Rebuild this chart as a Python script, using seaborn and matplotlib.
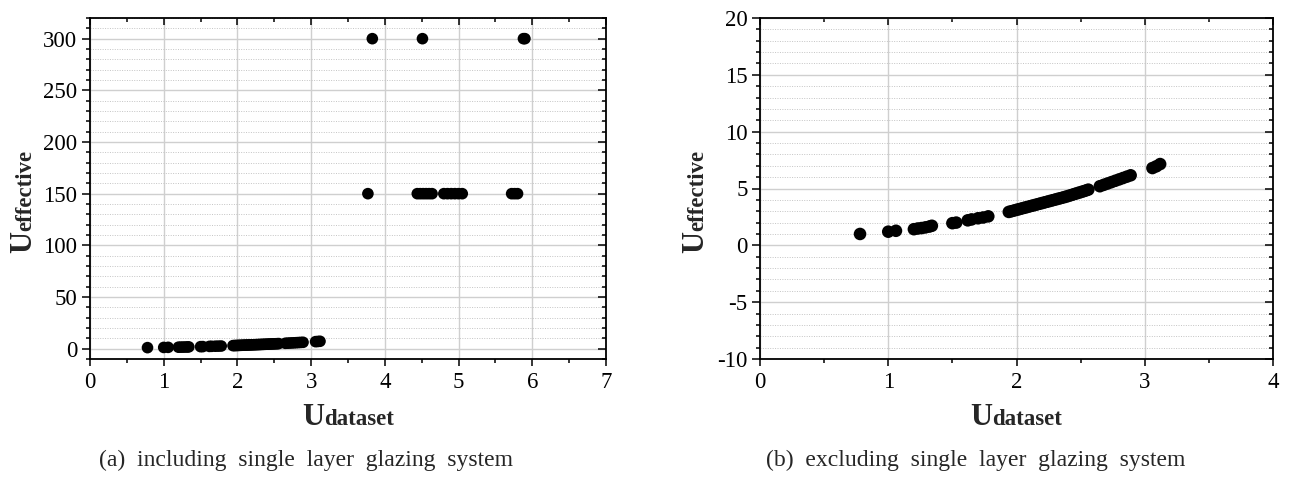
import matplotlib
matplotlib.use("Agg")
import matplotlib.pyplot as plt
from matplotlib.ticker import MultipleLocator
import seaborn as sns
import pandas as pd

# ---------------- data ----------------
low_x = [0.78, 1.00, 1.06, 1.20, 1.23, 1.26, 1.29, 1.32, 1.34, 1.50, 1.53,
         1.62, 1.65, 1.70, 1.74, 1.78,
         1.94, 1.96, 1.98, 2.00, 2.02, 2.04, 2.06, 2.08, 2.10, 2.12, 2.14,
         2.16, 2.18, 2.20, 2.22, 2.24, 2.26, 2.28, 2.30, 2.32, 2.34, 2.36,
         2.38, 2.40, 2.42, 2.44, 2.46, 2.48, 2.50, 2.52, 2.54, 2.56,
         2.65, 2.68, 2.71, 2.74, 2.77, 2.80, 2.83, 2.86, 2.89,
         3.06, 3.09, 3.12]
low_y = [1.00, 1.20, 1.28, 1.42, 1.48, 1.52, 1.58, 1.65, 1.72, 1.95, 2.00,
         2.20, 2.28, 2.38, 2.45, 2.55,
         2.94, 3.00, 3.06, 3.12, 3.18, 3.24, 3.30, 3.36, 3.42, 3.48, 3.54,
         3.60, 3.66, 3.72, 3.78, 3.84, 3.90, 3.96, 4.02, 4.08, 4.14, 4.20,
         4.26, 4.33, 4.40, 4.47, 4.54, 4.61, 4.68, 4.75, 4.82, 4.90,
         5.20, 5.32, 5.44, 5.56, 5.68, 5.80, 5.92, 6.04, 6.16,
         6.80, 6.95, 7.15]

single_x = [3.77, 4.44, 4.48, 4.52, 4.56, 4.60, 4.64, 4.80, 4.85, 4.90,
            4.95, 5.00, 5.05, 5.72, 5.76, 5.80, 3.83, 4.51, 5.88, 5.90]
single_y = [150, 150, 150, 150, 150, 150, 150, 150, 150, 150,
            150, 150, 150, 150, 150, 150, 300, 300, 300, 300]

captions = ["(a)  including  single  layer  glazing  system",
            "(b)  excluding  single  layer  glazing  system"]
ylabel_main, ylabel_sub = "U", "effective"
xlabel_main, xlabel_sub = "U", "dataset"

df_all = pd.DataFrame({"x": low_x + single_x, "y": low_y + single_y})
df_ex = pd.DataFrame({"x": low_x, "y": low_y})

# ---------------- style ----------------
sns.set_style("ticks")
plt.rcParams["font.family"] = ["Liberation Serif", "DejaVu Serif"]
plt.rcParams["axes.unicode_minus"] = False

W, H = 1289, 478
fig = plt.figure(figsize=(W / 100, H / 100), dpi=100)


def px_rect(l, r, t, b):
    return [l / W, 1 - b / H, (r - l) / W, (b - t) / H]


ax1 = fig.add_axes(px_rect(90, 606, 18, 359))
ax2 = fig.add_axes(px_rect(760, 1273, 18, 359))

sns.scatterplot(data=df_all, x="x", y="y", ax=ax1, color="black",
                s=70, edgecolor="none", linewidth=0, zorder=5)
sns.scatterplot(data=df_ex, x="x", y="y", ax=ax2, color="black",
                s=82, edgecolor="none", linewidth=0, zorder=5)

settings = [
    (ax1, (0, 7), (-10, 320), 1, 0.5, 50, 10),
    (ax2, (0, 4), (-10, 20), 1, 0.5, 5, 1),
]
for ax, xl, yl, xmaj, xmin, ymaj, ymin in settings:
    ax.set_xlim(*xl)
    ax.set_ylim(*yl)
    ax.xaxis.set_major_locator(MultipleLocator(xmaj))
    ax.xaxis.set_minor_locator(MultipleLocator(xmin))
    ax.yaxis.set_major_locator(MultipleLocator(ymaj))
    ax.yaxis.set_minor_locator(MultipleLocator(ymin))
    ax.set_xlabel("")
    ax.set_ylabel("")
    ax.grid(which="major", axis="both", color="#cfcfcf", linewidth=1.0,
            linestyle="-", zorder=0)
    ax.grid(which="minor", axis="y", color="#c4c4c4", linewidth=0.7,
            linestyle=(0, (1, 1.5)), zorder=0)
    ax.set_axisbelow(True)
    for sp in ax.spines.values():
        sp.set_visible(True)
        sp.set_color("black")
        sp.set_linewidth(1.3)
    ax.tick_params(axis="both", which="both", top=True, right=True,
                   labelsize=16.5, colors="black", width=1.1)
    ax.tick_params(axis="x", which="major", direction="out", length=5, pad=4)
    ax.tick_params(axis="x", which="minor", direction="out", length=3)
    ax.tick_params(axis="y", which="major", direction="out", length=6, pad=3)
    ax.tick_params(axis="y", which="minor", direction="out", length=3)
    # inward ticks on top/right
    for t in ax.xaxis.get_major_ticks() + ax.xaxis.get_minor_ticks():
        t.tick2line.set_marker(3)
    for t in ax.yaxis.get_major_ticks() + ax.yaxis.get_minor_ticks():
        t.tick2line.set_marker(0)

fig.canvas.draw()
renderer = fig.canvas.get_renderer()

BIG = 22
SMALL = 16.5


def add_xlabel(ax, y_px):
    yf = 1 - y_px / H
    t1 = fig.text(0, yf, xlabel_main, fontsize=BIG, fontweight="bold",
                  ha="left", va="baseline")
    t2 = fig.text(0, yf, xlabel_sub, fontsize=SMALL, fontweight="bold",
                  ha="left", va="baseline")
    w1 = t1.get_window_extent(renderer).width / fig.bbox.width
    w2 = t2.get_window_extent(renderer).width / fig.bbox.width
    pos = ax.get_position()
    cx = (pos.x0 + pos.x1) / 2
    start = cx - (w1 + w2) / 2
    t1.set_x(start)
    t2.set_x(start + w1)


def add_ylabel(x_px, y_px):
    xf = x_px / W
    yf = 1 - y_px / H
    fig.text(xf, yf, ylabel_main, fontsize=BIG, fontweight="bold",
             rotation=90, rotation_mode="anchor", ha="right", va="baseline")
    fig.text(xf, yf, ylabel_sub, fontsize=SMALL, fontweight="bold",
             rotation=90, rotation_mode="anchor", ha="left", va="baseline")


add_xlabel(ax1, 425)
add_xlabel(ax2, 425)
add_ylabel(31, 231)
add_ylabel(703, 231)

fig.text(306 / W, 1 - 460 / H, captions[0], fontsize=17, ha="center",
         va="center")
fig.text(976 / W, 1 - 460 / H, captions[1], fontsize=17, ha="center",
         va="center")

fig.savefig("out.png", dpi=100)
